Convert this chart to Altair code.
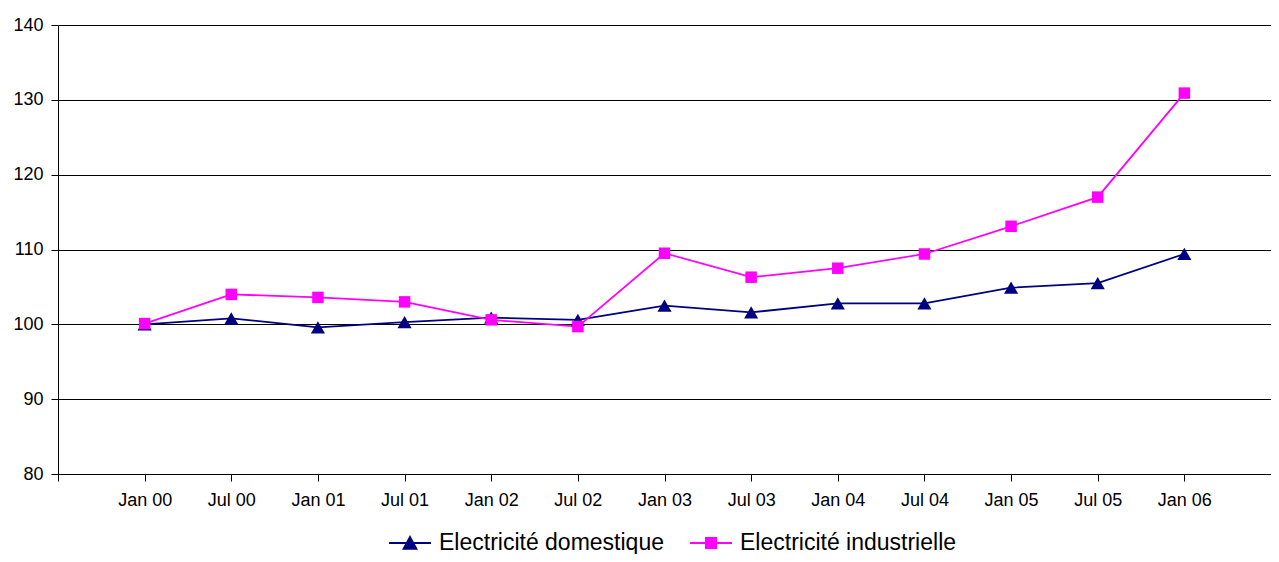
import json
import altair as alt
import pandas as pd

months = ["Jan 00", "Jul 00", "Jan 01", "Jul 01", "Jan 02", "Jul 02", "Jan 03",
          "Jul 03", "Jan 04", "Jul 04", "Jan 05", "Jul 05", "Jan 06"]
series_names = ["Electricité domestique", "Electricité industrielle"]
domestique = [100.0, 100.8, 99.6, 100.3, 100.9, 100.6, 102.5, 101.6, 102.8, 102.8, 104.9, 105.5, 109.4]
industrielle = [100.1, 104.0, 103.6, 103.0, 100.6, 99.7, 109.5, 106.3, 107.5, 109.4, 113.1, 117.0, 130.9]
y_ticks = [80, 90, 100, 110, 120, 130, 140]

colors = ["#000080", "#FF00FF"]
# legend symbols: line stub + marker, in unit coordinates
legend_paths = [
    "M-1,0H1M-0.3,0.27L0,-0.28L0.3,0.27Z",
    "M-1,0H1M-0.24,-0.24H0.24V0.24H-0.24Z",
]

rows = []
for i, m in enumerate(months):
    rows.append({"idx": i + 1, "month": m, "series": series_names[0], "value": domestique[i]})
    rows.append({"idx": i + 1, "month": m, "series": series_names[1], "value": industrielle[i]})
df = pd.DataFrame(rows)

label_expr = json.dumps([""] + months) + "[datum.value]"

color_scale = alt.Scale(domain=series_names, range=colors)

x_enc = alt.X(
    "idx:Q",
    scale=alt.Scale(domain=[0, len(months) + 1], nice=False, zero=False),
    axis=alt.Axis(
        values=list(range(0, len(months) + 1)),
        labelExpr=label_expr,
        title=None,
        grid=False,
        tickSize=7,
        labelPadding=10,
        labelFontSize=18,
        labelColor="#000000",
        tickColor="#000000",
        domainColor="#000000",
        labelFlush=False,
        labelOverlap=False,
    ),
)
y_enc = alt.Y(
    "value:Q",
    scale=alt.Scale(domain=[80, 140], nice=False, zero=False),
    axis=alt.Axis(
        values=y_ticks,
        title=None,
        grid=True,
        gridColor="#000000",
        gridWidth=1,
        tickSize=7,
        labelPadding=8,
        labelFontSize=18,
        labelColor="#000000",
        tickColor="#000000",
        domainColor="#000000",
    ),
)

leg = alt.Legend(
    title=None,
    orient="none",
    legendX=330,
    legendY=496,
    direction="horizontal",
    padding=0,
    symbolSize=1764,
    symbolStrokeWidth=2,
    symbolOpacity=1,
    labelFontSize=23,
    labelColor="#000000",
    labelOffset=7,
    columnPadding=22,
    labelLimit=400,
)

base = alt.Chart(df).encode(x=x_enc, y=y_enc)

lines = base.mark_line(strokeWidth=1.8).encode(
    color=alt.Color("series:N", scale=color_scale, legend=leg)
)
pts_dom = base.transform_filter(alt.datum.series == series_names[0]).mark_point(
    shape="triangle-up", filled=True, size=200, opacity=1, color=colors[0]
)
pts_ind = base.transform_filter(alt.datum.series == series_names[1]).mark_point(
    shape="square", filled=True, size=132, opacity=1, color=colors[1]
)
# invisible layer that only carries the legend symbols (line + marker)
legend_layer = base.mark_point(filled=True, opacity=0).encode(
    color=alt.Color("series:N", scale=color_scale, legend=leg),
    shape=alt.Shape("series:N", scale=alt.Scale(domain=series_names, range=legend_paths), legend=leg),
)

chart = (
    alt.layer(lines, pts_dom, pts_ind, legend_layer)
    .properties(
        width=1213,
        height=449,
        autosize=alt.AutoSizeParams(type="none"),
        padding={"left": 50, "top": 17, "right": 0, "bottom": 80},
    )
    .configure(font="Arial, Liberation Sans, sans-serif")
    .configure_view(strokeWidth=0)
)

chart.save("out.html", embed_options={"renderer": "svg", "actions": False})
